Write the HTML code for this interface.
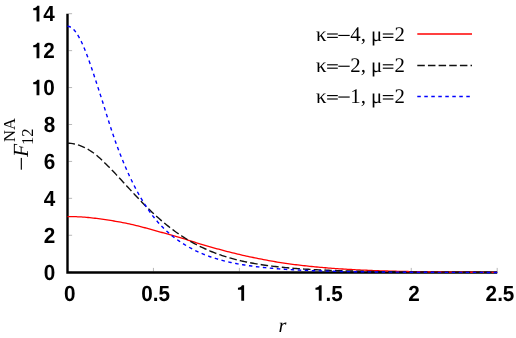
<!DOCTYPE html>
<html><head><meta charset="utf-8"><title>plot</title>
<style>
html,body{margin:0;padding:0;background:#fff;}
body{width:516px;height:338px;overflow:hidden;}
svg{display:block;will-change:transform;text-rendering:geometricPrecision;}
.sans text{font-family:"Liberation Sans",sans-serif;font-weight:bold;font-size:21.9px;fill:#000;}
.serif text, text.serif{font-family:"Liberation Serif",serif;font-size:20.8px;fill:#000;}
</style></head><body>
<svg width="516" height="338" viewBox="0 0 516 338">
<rect width="516" height="338" fill="#fff"/>
<g stroke="#9a9a9a" stroke-width="0.7"><line x1="68.5" y1="272.20" x2="72.1" y2="272.20"/><line x1="68.5" y1="235.27" x2="72.1" y2="235.27"/><line x1="68.5" y1="198.34" x2="72.1" y2="198.34"/><line x1="68.5" y1="161.41" x2="72.1" y2="161.41"/><line x1="68.5" y1="124.49" x2="72.1" y2="124.49"/><line x1="68.5" y1="87.56" x2="72.1" y2="87.56"/><line x1="68.5" y1="50.63" x2="72.1" y2="50.63"/><line x1="68.5" y1="13.70" x2="72.1" y2="13.70"/><line x1="153.44" y1="271.5" x2="153.44" y2="267.9"/><line x1="239.38" y1="271.5" x2="239.38" y2="267.9"/><line x1="325.32" y1="271.5" x2="325.32" y2="267.9"/><line x1="411.26" y1="271.5" x2="411.26" y2="267.9"/><line x1="497.20" y1="271.5" x2="497.20" y2="267.9"/></g>
<path d="M67.5,13.7 L67.5,272.5 L497.2,272.5" fill="none" stroke="#000" stroke-width="2.4" stroke-linejoin="miter" stroke-linecap="butt"/>
<g fill="none" stroke-width="1.4">
<path d="M67.50,216.54 L69.22,216.54 L70.94,216.57 L72.66,216.60 L74.38,216.65 L76.09,216.71 L77.81,216.78 L79.53,216.87 L81.25,216.97 L82.97,217.08 L84.69,217.21 L86.41,217.35 L88.13,217.50 L89.84,217.67 L91.56,217.85 L93.28,218.04 L95.00,218.24 L96.72,218.46 L98.44,218.69 L100.16,218.93 L101.88,219.18 L103.59,219.44 L105.31,219.69 L107.03,219.94 L108.75,220.20 L110.47,220.46 L112.19,220.73 L113.91,221.00 L115.63,221.29 L117.35,221.58 L119.06,221.89 L120.78,222.21 L122.50,222.53 L124.22,222.86 L125.94,223.21 L127.66,223.58 L129.38,223.96 L131.10,224.35 L132.81,224.74 L134.53,225.15 L136.25,225.57 L137.97,225.99 L139.69,226.42 L141.41,226.86 L143.13,227.30 L144.85,227.75 L146.56,228.21 L148.28,228.67 L150.00,229.14 L151.72,229.61 L153.44,230.09 L155.16,230.57 L156.88,231.05 L158.60,231.53 L160.32,232.02 L162.03,232.50 L163.75,232.98 L165.47,233.46 L167.19,233.93 L168.91,234.41 L170.63,234.88 L172.35,235.35 L174.07,235.83 L175.78,236.32 L177.50,236.81 L179.22,237.31 L180.94,237.82 L182.66,238.36 L184.38,238.90 L186.10,239.45 L187.82,240.02 L189.53,240.58 L191.25,241.14 L192.97,241.70 L194.69,242.24 L196.41,242.78 L198.13,243.30 L199.85,243.82 L201.57,244.33 L203.29,244.84 L205.00,245.35 L206.72,245.85 L208.44,246.35 L210.16,246.84 L211.88,247.33 L213.60,247.81 L215.32,248.29 L217.04,248.77 L218.75,249.24 L220.47,249.70 L222.19,250.16 L223.91,250.61 L225.63,251.06 L227.35,251.51 L229.07,251.95 L230.79,252.38 L232.50,252.81 L234.22,253.23 L235.94,253.65 L237.66,254.06 L239.38,254.46 L241.10,254.86 L242.82,255.26 L244.54,255.64 L246.26,256.03 L247.97,256.40 L249.69,256.78 L251.41,257.14 L253.13,257.50 L254.85,257.86 L256.57,258.21 L258.29,258.55 L260.01,258.90 L261.72,259.23 L263.44,259.57 L265.16,259.90 L266.88,260.22 L268.60,260.54 L270.32,260.85 L272.04,261.16 L273.76,261.46 L275.47,261.75 L277.19,262.04 L278.91,262.32 L280.63,262.60 L282.35,262.87 L284.07,263.13 L285.79,263.38 L287.51,263.63 L289.23,263.87 L290.94,264.10 L292.66,264.33 L294.38,264.55 L296.10,264.76 L297.82,264.97 L299.54,265.18 L301.26,265.38 L302.98,265.58 L304.69,265.77 L306.41,265.96 L308.13,266.14 L309.85,266.32 L311.57,266.50 L313.29,266.67 L315.01,266.83 L316.73,267.00 L318.44,267.15 L320.16,267.31 L321.88,267.46 L323.60,267.61 L325.32,267.75 L327.04,267.89 L328.76,268.03 L330.48,268.16 L332.20,268.29 L333.91,268.42 L335.63,268.54 L337.35,268.66 L339.07,268.78 L340.79,268.89 L342.51,269.00 L344.23,269.11 L345.95,269.21 L347.66,269.31 L349.38,269.41 L351.10,269.51 L352.82,269.60 L354.54,269.69 L356.26,269.78 L357.98,269.87 L359.70,269.95 L361.41,270.03 L363.13,270.11 L364.85,270.19 L366.57,270.26 L368.29,270.33 L370.01,270.40 L371.73,270.47 L373.45,270.54 L375.17,270.60 L376.88,270.66 L378.60,270.72 L380.32,270.78 L382.04,270.84 L383.76,270.89 L385.48,270.95 L387.20,271.00 L388.92,271.05 L390.63,271.10 L392.35,271.14 L394.07,271.19 L395.79,271.23 L397.51,271.28 L399.23,271.32 L400.95,271.36 L402.67,271.40 L404.38,271.43 L406.10,271.47 L407.82,271.51 L409.54,271.54 L411.26,271.57 L412.98,271.60 L414.70,271.64 L416.42,271.66 L418.14,271.69 L419.85,271.72 L421.57,271.75 L423.29,271.78 L425.01,271.80 L426.73,271.83 L428.45,271.85 L430.17,271.87 L431.89,271.89 L433.60,271.92 L435.32,271.94 L437.04,271.96 L438.76,271.98 L440.48,271.99 L442.20,272.01 L443.92,272.03 L445.64,272.05 L447.35,272.06 L449.07,272.08 L450.79,272.09 L452.51,272.11 L454.23,272.12 L455.95,272.14 L457.67,272.15 L459.39,272.16 L461.11,272.17 L462.82,272.19 L464.54,272.20 L466.26,272.21 L467.98,272.22 L469.70,272.23 L471.42,272.24 L473.14,272.25 L474.86,272.26 L476.57,272.27 L478.29,272.27 L480.01,272.28 L481.73,272.29 L483.45,272.30 L485.17,272.31 L486.89,272.31 L488.61,272.32 L490.32,272.33 L492.04,272.33 L493.76,272.34 L495.48,272.35 L497.20,272.35" stroke="#ff0000" stroke-width="1.3"/>
<path d="M67.50,143.24 L69.22,143.29 L70.94,143.42 L72.66,143.64 L74.38,143.95 L76.09,144.35 L77.81,144.83 L79.53,145.40 L81.25,146.05 L82.97,146.79 L84.69,147.60 L86.41,148.49 L88.13,149.45 L89.84,150.49 L91.56,151.60 L93.28,152.78 L94.96,154.02 L96.58,155.33 L98.16,156.69 L99.72,158.10 L101.29,159.58 L102.88,161.09 L104.51,162.66 L106.18,164.27 L107.85,165.91 L109.52,167.59 L111.20,169.31 L112.88,171.05 L114.56,172.82 L116.25,174.61 L117.94,176.42 L119.63,178.25 L121.33,180.09 L123.03,181.93 L124.74,183.79 L126.46,185.65 L128.18,187.51 L129.90,189.37 L131.61,191.23 L133.33,193.08 L135.05,194.92 L136.77,196.75 L138.49,198.57 L140.21,200.37 L141.93,202.16 L143.65,203.93 L145.37,205.68 L147.10,207.41 L148.84,209.12 L150.58,210.80 L152.33,212.46 L154.09,214.09 L155.84,215.70 L157.60,217.28 L159.36,218.83 L161.12,220.35 L162.88,221.84 L164.64,223.31 L166.39,224.74 L168.14,226.14 L169.89,227.52 L171.65,228.86 L173.40,230.17 L175.15,231.45 L176.91,232.70 L178.66,233.92 L180.41,235.11 L182.16,236.27 L183.92,237.40 L185.67,238.50 L187.42,239.57 L189.17,240.62 L190.92,241.63 L192.67,242.61 L194.43,243.57 L196.18,244.50 L197.93,245.41 L199.69,246.28 L201.44,247.14 L203.19,247.96 L204.93,248.76 L206.68,249.54 L208.41,250.29 L210.15,251.03 L211.88,251.73 L213.60,252.42 L215.32,253.08 L217.04,253.73 L218.75,254.35 L220.47,254.95 L222.19,255.54 L223.91,256.10 L225.63,256.65 L227.35,257.18 L229.07,257.69 L230.79,258.18 L232.50,258.66 L234.22,259.12 L235.94,259.57 L237.66,260.00 L239.38,260.42 L241.10,260.82 L242.82,261.21 L244.54,261.59 L246.26,261.96 L247.97,262.31 L249.69,262.65 L251.41,262.98 L253.13,263.29 L254.85,263.60 L256.57,263.90 L258.29,264.18 L260.01,264.46 L261.72,264.72 L263.44,264.98 L265.16,265.23 L266.88,265.47 L268.60,265.70 L270.32,265.93 L272.04,266.14 L273.76,266.35 L275.47,266.55 L277.19,266.75 L278.91,266.93 L280.63,267.12 L282.35,267.29 L284.07,267.46 L285.79,267.62 L287.51,267.78 L289.23,267.93 L290.94,268.08 L292.66,268.22 L294.38,268.36 L296.10,268.49 L297.82,268.62 L299.54,268.75 L301.26,268.87 L302.98,268.98 L304.69,269.09 L306.41,269.20 L308.13,269.30 L309.85,269.40 L311.57,269.50 L313.29,269.60 L315.01,269.69 L316.73,269.77 L318.44,269.86 L320.16,269.94 L321.88,270.02 L323.60,270.10 L325.32,270.17 L327.04,270.24 L328.76,270.31 L330.48,270.38 L332.20,270.44 L333.91,270.51 L335.63,270.57 L337.35,270.62 L339.07,270.68 L340.79,270.74 L342.51,270.79 L344.23,270.84 L345.95,270.89 L347.66,270.94 L349.38,270.98 L351.10,271.03 L352.82,271.07 L354.54,271.11 L356.26,271.15 L357.98,271.19 L359.70,271.23 L361.41,271.27 L363.13,271.30 L364.85,271.34 L366.57,271.37 L368.29,271.40 L370.01,271.44 L371.73,271.47 L373.45,271.50 L375.17,271.52 L376.88,271.55 L378.60,271.58 L380.32,271.60 L382.04,271.63 L383.76,271.65 L385.48,271.68 L387.20,271.70 L388.92,271.72 L390.63,271.74 L392.35,271.76 L394.07,271.78 L395.79,271.80 L397.51,271.82 L399.23,271.84 L400.95,271.86 L402.67,271.88 L404.38,271.89 L406.10,271.91 L407.82,271.93 L409.54,271.94 L411.26,271.96 L412.98,271.97 L414.70,271.98 L416.42,272.00 L418.14,272.01 L419.85,272.02 L421.57,272.04 L423.29,272.05 L425.01,272.06 L426.73,272.07 L428.45,272.08 L430.17,272.09 L431.89,272.10 L433.60,272.11 L435.32,272.12 L437.04,272.13 L438.76,272.14 L440.48,272.15 L442.20,272.16 L443.92,272.17 L445.64,272.18 L447.35,272.19 L449.07,272.19 L450.79,272.20 L452.51,272.21 L454.23,272.22 L455.95,272.22 L457.67,272.23 L459.39,272.24 L461.11,272.24 L462.82,272.25 L464.54,272.26 L466.26,272.26 L467.98,272.27 L469.70,272.27 L471.42,272.28 L473.14,272.28 L474.86,272.29 L476.57,272.29 L478.29,272.30 L480.01,272.30 L481.73,272.31 L483.45,272.31 L485.17,272.32 L486.89,272.32 L488.61,272.33 L490.32,272.33 L492.04,272.33 L493.76,272.34 L495.48,272.34 L497.20,272.34" stroke="#111" stroke-dasharray="7.5 3.15"/>
<path d="M67.50,26.28 L69.22,26.53 L70.94,27.28 L72.66,28.53 L74.38,30.26 L76.09,32.44 L77.81,35.06 L79.53,38.09 L81.25,41.50 L82.97,45.25 L84.69,49.32 L86.41,53.65 L88.13,58.23 L89.84,63.02 L91.56,67.97 L93.28,73.06 L95.00,78.25 L96.72,83.53 L98.44,88.85 L100.16,94.19 L101.88,99.53 L103.57,104.86 L105.21,110.15 L106.83,115.38 L108.44,120.54 L110.05,125.63 L111.69,130.62 L113.34,135.52 L115.00,140.30 L116.66,144.98 L118.36,149.53 L120.08,153.97 L121.80,158.28 L123.52,162.47 L125.24,166.53 L126.96,170.47 L128.68,174.28 L130.40,177.97 L132.11,181.54 L133.83,184.98 L135.55,188.31 L137.27,191.52 L138.97,194.61 L140.67,197.60 L142.36,200.47 L144.05,203.24 L145.74,205.91 L147.43,208.47 L149.12,210.94 L150.83,213.32 L152.54,215.61 L154.26,217.80 L156.00,219.92 L157.74,221.95 L159.49,223.90 L161.24,225.78 L162.99,227.58 L164.75,229.32 L166.51,230.98 L168.27,232.58 L170.03,234.12 L171.79,235.60 L173.56,237.01 L175.34,238.38 L177.12,239.69 L178.91,240.94 L180.70,242.15 L182.48,243.31 L184.26,244.42 L186.02,245.49 L187.78,246.52 L189.53,247.51 L191.25,248.46 L192.97,249.37 L194.69,250.24 L196.41,251.08 L198.13,251.89 L199.85,252.67 L201.57,253.41 L203.29,254.13 L205.00,254.82 L206.72,255.48 L208.44,256.12 L210.16,256.73 L211.88,257.31 L213.60,257.88 L215.32,258.42 L217.04,258.94 L218.75,259.44 L220.47,259.92 L222.19,260.39 L223.91,260.83 L225.63,261.26 L227.35,261.67 L229.07,262.07 L230.79,262.45 L232.50,262.82 L234.22,263.17 L235.94,263.51 L237.66,263.83 L239.38,264.15 L241.10,264.45 L242.82,264.74 L244.54,265.02 L246.26,265.29 L247.97,265.55 L249.69,265.80 L251.41,266.04 L253.13,266.27 L254.85,266.49 L256.57,266.70 L258.29,266.91 L260.01,267.11 L261.72,267.30 L263.44,267.48 L265.16,267.66 L266.88,267.83 L268.60,267.99 L270.32,268.15 L272.04,268.30 L273.76,268.45 L275.47,268.59 L277.19,268.73 L278.91,268.86 L280.63,268.99 L282.35,269.11 L284.07,269.22 L285.79,269.34 L287.51,269.45 L289.23,269.55 L290.94,269.65 L292.66,269.75 L294.38,269.85 L296.10,269.94 L297.82,270.02 L299.54,270.11 L301.26,270.19 L302.98,270.27 L304.69,270.35 L306.41,270.42 L308.13,270.49 L309.85,270.56 L311.57,270.62 L313.29,270.69 L315.01,270.75 L316.73,270.81 L318.44,270.86 L320.16,270.92 L321.88,270.97 L323.60,271.02 L325.32,271.07 L327.04,271.12 L328.76,271.16 L330.48,271.21 L332.20,271.25 L333.91,271.29 L335.63,271.33 L337.35,271.37 L339.07,271.41 L340.79,271.44 L342.51,271.48 L344.23,271.51 L345.95,271.55 L347.66,271.58 L349.38,271.61 L351.10,271.64 L352.82,271.66 L354.54,271.69 L356.26,271.72 L357.98,271.74 L359.70,271.77 L361.41,271.79 L363.13,271.81 L364.85,271.84 L366.57,271.86 L368.29,271.88 L370.01,271.90 L371.73,271.92 L373.45,271.94 L375.17,271.95 L376.88,271.97 L378.60,271.99 L380.32,272.01 L382.04,272.02 L383.76,272.04 L385.48,272.05 L387.20,272.07 L388.92,272.08 L390.63,272.09 L392.35,272.11 L394.07,272.12 L395.79,272.13 L397.51,272.14 L399.23,272.15 L400.95,272.16 L402.67,272.17 L404.38,272.18 L406.10,272.19 L407.82,272.20 L409.54,272.21 L411.26,272.22 L412.98,272.23 L414.70,272.24 L416.42,272.25 L418.14,272.26 L419.85,272.26 L421.57,272.27 L423.29,272.28 L425.01,272.28 L426.73,272.29 L428.45,272.30 L430.17,272.30 L431.89,272.31 L433.60,272.32 L435.32,272.32 L437.04,272.33 L438.76,272.33 L440.48,272.34 L442.20,272.34 L443.92,272.35 L445.64,272.35 L447.35,272.36 L449.07,272.36 L450.79,272.36 L452.51,272.37 L454.23,272.37 L455.95,272.38 L457.67,272.38 L459.39,272.38 L461.11,272.39 L462.82,272.39 L464.54,272.39 L466.26,272.40 L467.98,272.40 L469.70,272.40 L471.42,272.41 L473.14,272.41 L474.86,272.41 L476.57,272.41 L478.29,272.42 L480.01,272.42 L481.73,272.42 L483.45,272.42 L485.17,272.43 L486.89,272.43 L488.61,272.43 L490.32,272.43 L492.04,272.44 L493.76,272.44 L495.48,272.44 L497.20,272.44" stroke="#0000ff" stroke-dasharray="3.5 3.5"/>
</g>
<g class="sans"><g transform="translate(55.20,279.90) scale(0.945,1)"><text x="-12.18" y="0">0</text></g><g transform="translate(55.20,242.97) scale(0.945,1)"><text x="-12.18" y="0">2</text></g><g transform="translate(55.20,206.04) scale(0.945,1)"><text x="-12.18" y="0">4</text></g><g transform="translate(55.20,169.11) scale(0.945,1)"><text x="-12.18" y="0">6</text></g><g transform="translate(55.20,132.19) scale(0.945,1)"><text x="-12.18" y="0">8</text></g><g transform="translate(54.80,95.26) scale(0.945,1)"><path transform="translate(-24.35,0) scale(0.02190)" d="M367,0 L230,0 L230,-505 L69,-505 L69,-598 C160,-600 240,-630 262,-710 L367,-710 Z"/><text x="-12.18" y="0">0</text></g><g transform="translate(54.80,58.33) scale(0.945,1)"><path transform="translate(-24.35,0) scale(0.02190)" d="M367,0 L230,0 L230,-505 L69,-505 L69,-598 C160,-600 240,-630 262,-710 L367,-710 Z"/><text x="-12.18" y="0">2</text></g><g transform="translate(54.80,21.40) scale(0.945,1)"><path transform="translate(-24.35,0) scale(0.02190)" d="M367,0 L230,0 L230,-505 L69,-505 L69,-598 C160,-600 240,-630 262,-710 L367,-710 Z"/><text x="-12.18" y="0">4</text></g><g transform="translate(69.70,300.80) scale(0.945,1)"><text x="-6.09" y="0">0</text></g><g transform="translate(155.64,300.80) scale(0.945,1)"><text x="-15.22" y="0">0</text><text x="-3.04" y="0">.</text><text x="3.04" y="0">5</text></g><g transform="translate(242.28,300.80) scale(0.945,1)"><path transform="translate(-6.09,0) scale(0.02190)" d="M367,0 L230,0 L230,-505 L69,-505 L69,-598 C160,-600 240,-630 262,-710 L367,-710 Z"/></g><g transform="translate(328.42,300.80) scale(0.945,1)"><path transform="translate(-15.22,0) scale(0.02190)" d="M367,0 L230,0 L230,-505 L69,-505 L69,-598 C160,-600 240,-630 262,-710 L367,-710 Z"/><text x="-3.04" y="0">.</text><text x="3.04" y="0">5</text></g><g transform="translate(414.06,300.80) scale(0.945,1)"><text x="-6.09" y="0">2</text></g><g transform="translate(500.00,300.80) scale(0.945,1)"><text x="-15.22" y="0">2</text><text x="-3.04" y="0">.</text><text x="3.04" y="0">5</text></g></g>
<g class="serif">
<text x="315.9" y="41.4">κ</text><rect x="327.1" y="33.42" width="10.70" height="1.15"/><rect x="327.1" y="36.82" width="10.70" height="1.15"/><rect x="382.8" y="33.42" width="10.60" height="1.15"/><rect x="382.8" y="36.82" width="10.60" height="1.15"/><rect x="338.3" y="34.87" width="11.4" height="1.15"/><text x="350.3" y="41.4">4,</text><text x="371.1" y="41.4">μ</text><text x="394.4" y="41.4">2</text><text x="315.9" y="72.2">κ</text><rect x="327.1" y="64.22" width="10.70" height="1.15"/><rect x="327.1" y="67.62" width="10.70" height="1.15"/><rect x="382.8" y="64.22" width="10.60" height="1.15"/><rect x="382.8" y="67.62" width="10.60" height="1.15"/><rect x="338.3" y="65.67" width="11.4" height="1.15"/><text x="350.3" y="72.2">2,</text><text x="371.1" y="72.2">μ</text><text x="394.4" y="72.2">2</text><text x="315.9" y="103.0">κ</text><rect x="327.1" y="95.02" width="10.70" height="1.15"/><rect x="327.1" y="98.42" width="10.70" height="1.15"/><rect x="382.8" y="95.02" width="10.60" height="1.15"/><rect x="382.8" y="98.42" width="10.60" height="1.15"/><rect x="338.3" y="96.47" width="11.4" height="1.15"/><text x="350.3" y="103.0">1,</text><text x="371.1" y="103.0">μ</text><text x="394.4" y="103.0">2</text>
<text x="278.5" y="331.8" style="font-style:italic;font-size:20.3px">r</text>
<g transform="translate(28.4,170) rotate(-90)">
<rect x="0.3" y="-7.65" width="11.8" height="1.15" fill="#000"/>
<text x="13.0" y="0" style="font-size:21.6px;font-style:italic">F</text>
<text x="28" y="-13.1" style="font-size:16.6px">NA</text>
<text x="25" y="4.1" style="font-size:16.6px">12</text>
</g>
</g>
<g fill="none" stroke-width="1.4">
<line x1="417.3" y1="34" x2="472" y2="34" stroke="#ff0000"/>
<line x1="417.3" y1="65.45" x2="472" y2="65.45" stroke="#111" stroke-dasharray="7.5 3.15"/>
<line x1="417.3" y1="96.45" x2="472" y2="96.45" stroke="#0000ff" stroke-dasharray="3.5 3.5"/>
</g>
</svg>
</body></html>
